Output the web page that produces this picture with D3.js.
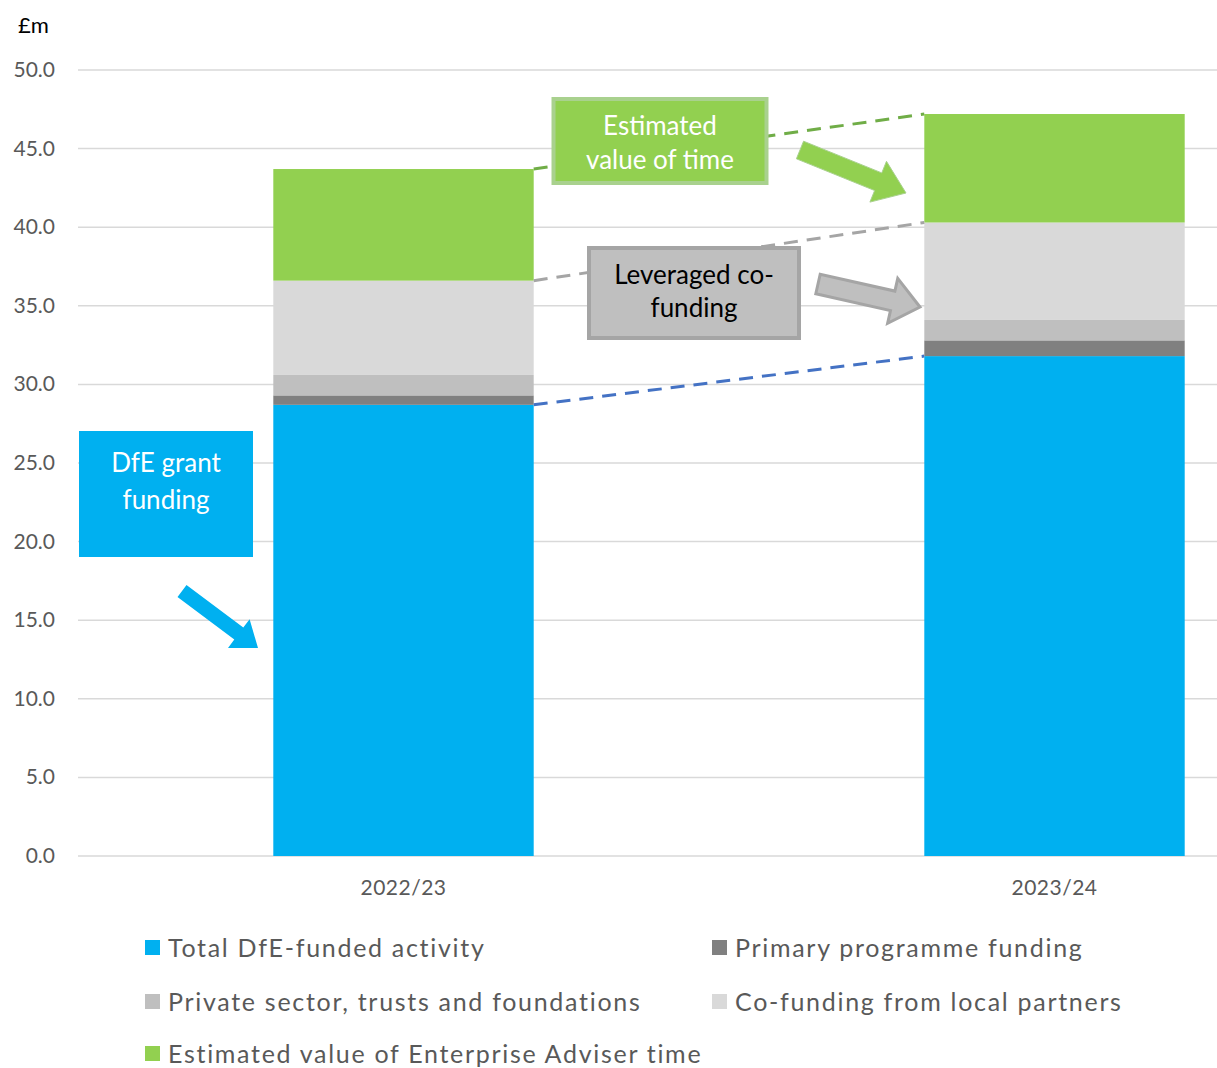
<!DOCTYPE html>
<html>
<head>
<meta charset="utf-8">
<script src="https://cdn.jsdelivr.net/npm/d3@7"></script>
<style>
  body { margin: 0; background: #fff; }
  svg { display: block; font-family: Lato, "Open Sans", sans-serif; }
</style>
</head>
<body>
<svg id="chart" width="1217" height="1068"></svg>
<script>
// data (£m)
var years = ["2022/23", "2023/24"];
var seriesNames = ["Total DfE-funded activity", "Primary programme funding",
                   "Private sector, trusts and foundations", "Co-funding from local partners",
                   "Estimated value of Enterprise Adviser time"];
var dfeFunded = [28.7, 31.8];
var primaryProgramme = [0.6, 1.0];
var privateSector = [1.3, 1.3];
var localPartners = [6.0, 6.2];
var adviserTime = [7.1, 6.9];
var yTicks = [0, 5, 10, 15, 20, 25, 30, 35, 40, 45, 50];

var colors = ["#00b0f0", "#808080", "#bfbfbf", "#d9d9d9", "#92d050"];

var rows = years.map(function(y, i) {
    return {year: y, s0: dfeFunded[i], s1: primaryProgramme[i], s2: privateSector[i],
            s3: localPartners[i], s4: adviserTime[i]};
});
var stack = d3.stack().keys(["s0", "s1", "s2", "s3", "s4"])(rows);

var svg = d3.select("#chart");

// plot area runs past the right edge of the picture (it is cropped there)
var x = d3.scaleBand().domain(years).range([78, 1380]).paddingInner(0.6).paddingOuter(0.3);
var y = d3.scaleLinear().domain([0, 50]).range([856, 70]);

// gridlines
svg.append("g").selectAll("line").data(yTicks).join("line")
    .attr("x1", 78).attr("x2", 1217)
    .attr("y1", d => y(d)).attr("y2", d => y(d))
    .style("stroke", "#d9d9d9").style("stroke-width", 1.5);

// y axis labels
svg.append("g").selectAll("text").data(yTicks).join("text")
    .attr("x", 55).attr("y", d => y(d) + 7)
    .attr("text-anchor", "end")
    .style("font-size", "21px").style("fill", "#595959")
    .text(d => d.toFixed(1));

svg.append("text").attr("x", 18).attr("y", 33)
    .style("font-size", "22px").style("fill", "#000").text("£m");

// bars
svg.append("g").selectAll("g").data(stack).join("g")
    .style("fill", (d, i) => colors[i])
    .selectAll("rect").data(d => d).join("rect")
    .attr("x", d => x(d.data.year))
    .attr("width", x.bandwidth())
    .attr("y", d => y(d[1]))
    .attr("height", d => y(d[0]) - y(d[1]));

// category labels
svg.append("g").selectAll("text").data(years).join("text")
    .attr("x", d => x(d) + x.bandwidth() / 2).attr("y", 895)
    .attr("text-anchor", "middle")
    .style("font-size", "21px").style("fill", "#595959")
    .style("letter-spacing", "0.5px")
    .text(d => d);

// dashed connectors between stack tops
var links = [{layer: 0, color: "#4472c4"}, {layer: 3, color: "#a5a5a5"}, {layer: 4, color: "#70ad47"}];
var ann = svg.append("g");
links.forEach(function(l) {
    var s = stack[l.layer];
    ann.append("line")
        .attr("x1", x(years[0]) + x.bandwidth()).attr("y1", y(s[0][1]))
        .attr("x2", x(years[1])).attr("y2", y(s[1][1]))
        .style("stroke", l.color).style("stroke-width", 3)
        .style("stroke-dasharray", "14,9");
});

// block arrow helper
function arrow(x0, y0, x1, y1, shaft, head, headLen) {
    var dx = x1 - x0, dy = y1 - y0, len = Math.sqrt(dx*dx + dy*dy);
    var ux = dx / len, uy = dy / len, nx = -uy, ny = ux;
    var bx = x1 - ux * headLen, by = y1 - uy * headLen;
    var pts = [
        [x0 + nx*shaft/2, y0 + ny*shaft/2], [bx + nx*shaft/2, by + ny*shaft/2],
        [bx + nx*head/2, by + ny*head/2], [x1, y1],
        [bx - nx*head/2, by - ny*head/2], [bx - nx*shaft/2, by - ny*shaft/2],
        [x0 - nx*shaft/2, y0 - ny*shaft/2]];
    return "M" + pts.map(p => p.join(",")).join("L") + "Z";
}

function box(cx, cy, w, h, fill, stroke, textColor, lines, lineY) {
    ann.append("rect")
        .attr("x", cx - w/2).attr("y", cy - h/2).attr("width", w).attr("height", h)
        .style("fill", fill).style("stroke", stroke).style("stroke-width", stroke == "none" ? 0 : 4);
    lines.forEach(function(t, i) {
        ann.append("text").attr("x", cx).attr("y", lineY[i])
            .attr("text-anchor", "middle")
            .style("font-size", "26px").style("fill", textColor).text(t);
    });
}

// green: value of time
box(660, 141, 213, 84, "#92d050", "#a9d18e", "#fff", ["Estimated", "value of time"], [135, 169]);
ann.append("path").attr("d", arrow(800, 150, 906, 193, 19, 44, 30))
    .style("fill", "#92d050").style("stroke", "#a9d18e").style("stroke-width", 1);

// grey: leveraged co-funding
box(694, 293, 210, 90, "#bfbfbf", "#a5a5a5", "#000", ["Leveraged co-", "funding"], [284, 317]);
ann.append("path").attr("d", arrow(818, 284, 920, 307, 20, 46, 28))
    .style("fill", "#bfbfbf").style("stroke", "#a5a5a5").style("stroke-width", 3);

// blue: DfE grant funding
box(166, 494, 174, 126, "#00b0f0", "none", "#fff", ["DfE grant", "funding"], [472, 509]);
ann.append("path").attr("d", arrow(182, 591, 258, 648, 15, 36, 24))
    .style("fill", "#00b0f0");

// legend
var legendPos = [[145, 948], [712, 948], [145, 1002], [712, 1002], [145, 1054]];
var lg = svg.append("g").selectAll("g").data(seriesNames).join("g")
    .attr("transform", (d, i) => "translate(" + legendPos[i][0] + "," + legendPos[i][1] + ")");
lg.append("rect").attr("x", 0).attr("y", -8).attr("width", 15).attr("height", 15)
    .style("fill", (d, i) => colors[i]);
lg.append("text").attr("x", 23).attr("y", 9)
    .style("font-size", "25px").style("fill", "#595959")
    .style("letter-spacing", "1.7px")
    .text(d => d);
</script>
</body>
</html>
